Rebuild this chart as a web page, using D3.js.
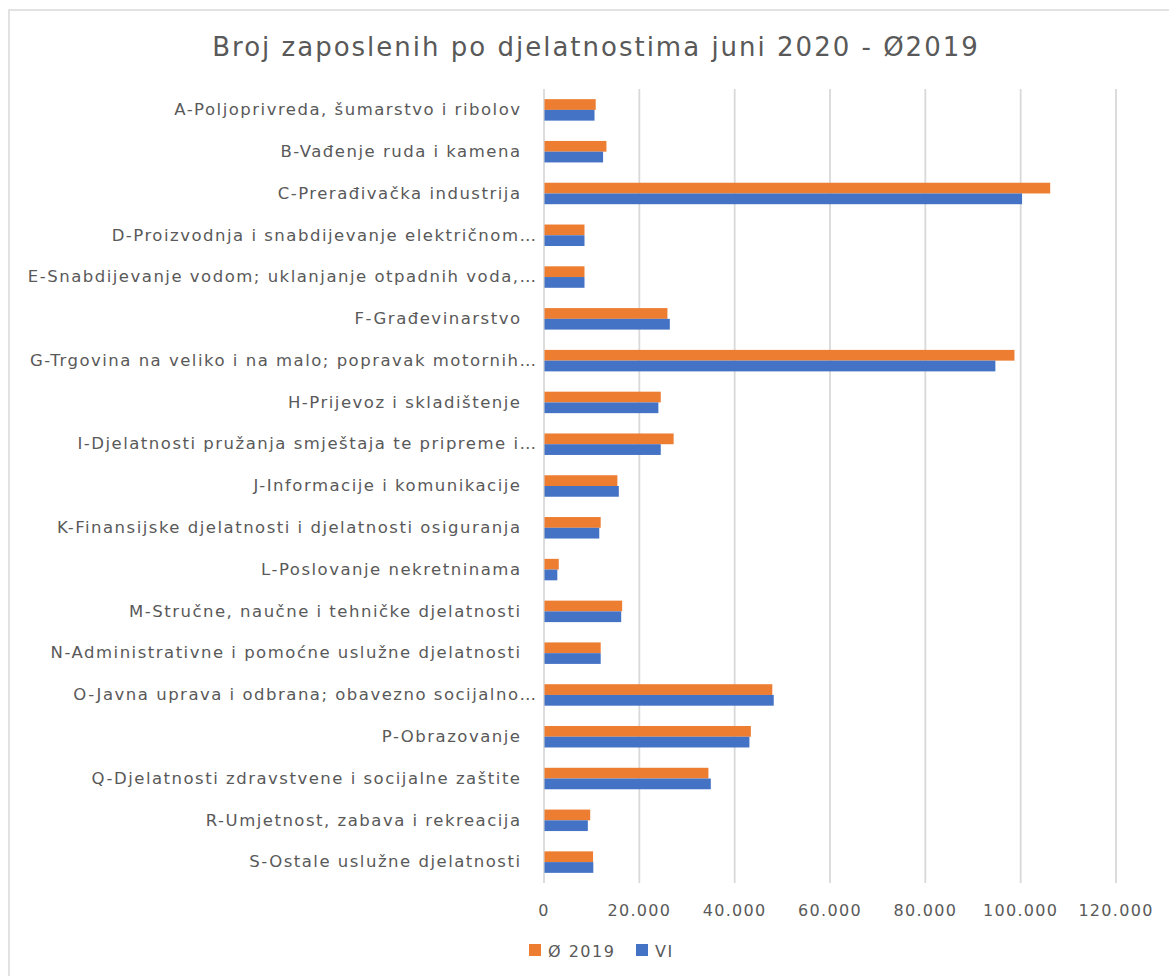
<!DOCTYPE html>
<html>
<head>
<meta charset="utf-8">
<script src="https://cdn.jsdelivr.net/npm/d3@7"></script>
<style>
  body { margin: 0; background: #fff; }
  text { font-family: "DejaVu Sans", sans-serif; fill: #595959; }
</style>
</head>
<body>
<div id="chart"></div>
<script>
// categories (top to bottom)
var categories = [
  "A-Poljoprivreda, šumarstvo i ribolov",
  "B-Vađenje ruda i kamena",
  "C-Prerađivačka industrija",
  "D-Proizvodnja i snabdijevanje električnom…",
  "E-Snabdijevanje vodom; uklanjanje otpadnih voda,…",
  "F-Građevinarstvo",
  "G-Trgovina na veliko i na malo; popravak motornih…",
  "H-Prijevoz i skladištenje",
  "I-Djelatnosti pružanja smještaja te pripreme i…",
  "J-Informacije i komunikacije",
  "K-Finansijske djelatnosti i djelatnosti osiguranja",
  "L-Poslovanje nekretninama",
  "M-Stručne, naučne i tehničke djelatnosti",
  "N-Administrativne i pomoćne uslužne djelatnosti",
  "O-Javna uprava i odbrana; obavezno socijalno…",
  "P-Obrazovanje",
  "Q-Djelatnosti zdravstvene i socijalne zaštite",
  "R-Umjetnost, zabava i rekreacija",
  "S-Ostale uslužne djelatnosti"
];
// series
var seriesNames = ["Ø 2019", "VI"];
var avg2019 = [10950, 13200, 106300, 8600, 8600, 26000, 98800, 24600, 27300, 15500,
               12000, 3200, 16500, 12000, 48000, 43500, 34600, 9800, 10400];
var vi = [10700, 12500, 100400, 8600, 8600, 26500, 94800, 24100, 24600, 15800,
          11700, 2900, 16300, 12000, 48300, 43200, 35100, 9300, 10450];
var xTicks = [0, 20000, 40000, 60000, 80000, 100000, 120000];

var colors = ["#ED7D31", "#4472C4"];

var svgWidth = 1169, svgHeight = 976;
var margin = {top: 89, right: 53.5, bottom: 93, left: 543.5};
var width = svgWidth - margin.left - margin.right;
var height = svgHeight - margin.top - margin.bottom;

var svg = d3.select("#chart").append("svg")
    .attr("width", svgWidth)
    .attr("height", svgHeight);

// outer chart border (cut off at right and bottom)
svg.append("rect")
    .attr("x", 9).attr("y", 10)
    .attr("width", 1200).attr("height", 1000)
    .attr("fill", "none")
    .attr("stroke", "#d9d9d9")
    .attr("stroke-width", 1.5);

svg.append("text")
    .attr("x", 596).attr("y", 56)
    .attr("text-anchor", "middle")
    .attr("font-size", "26px")
    .attr("letter-spacing", "2px")
    .text("Broj zaposlenih po djelatnostima juni 2020 - Ø2019");

var chartGroup = svg.append("g")
    .attr("transform", `translate(${margin.left}, ${margin.top})`);

var locale = d3.formatLocale({decimal: ",", thousands: ".", grouping: [3], currency: ["", ""]});
var fmt = locale.format(",");

var xScale = d3.scaleLinear().domain([0, 120000]).range([0, width]);
var yScale = d3.scaleBand().domain(categories).range([0, height])
    .paddingInner(0.486).paddingOuter(0.243);
var ySub = d3.scaleBand().domain(seriesNames).range([0, yScale.bandwidth()]);

// x axis with gridlines
var xAxis = d3.axisBottom(xScale).tickValues(xTicks).tickFormat(fmt)
    .tickSize(-height).tickPadding(22);
var xg = chartGroup.append("g")
    .attr("transform", `translate(0, ${height})`)
    .call(xAxis);
xg.select(".domain").remove();
xg.selectAll(".tick line").attr("stroke", "#d9d9d9").attr("stroke-width", 1.8);
xg.selectAll(".tick text")
    .attr("font-size", "16px")
    .attr("letter-spacing", "1.3px")
    .attr("fill", "#595959");

// y axis labels
var yAxis = d3.axisLeft(yScale).tickSize(0).tickPadding(22);
var yg = chartGroup.append("g").call(yAxis);
yg.select(".domain").remove();
yg.selectAll(".tick text")
    .attr("font-size", "16.5px")
    .attr("letter-spacing", "1.5px")
    .attr("fill", "#595959")
    .attr("x", d => d.endsWith("…") ? -6 : -22);

// bars
var rows = categories.map((c, i) => ({cat: c, values: [avg2019[i], vi[i]]}));
var groups = chartGroup.selectAll(".bar-group")
    .data(rows)
    .enter().append("g")
    .attr("transform", d => `translate(0, ${yScale(d.cat)})`);

groups.selectAll("rect")
    .data(d => d.values.map((v, j) => ({name: seriesNames[j], value: v, j: j})))
    .enter().append("rect")
    .attr("x", xScale(0) + 1)
    .attr("y", d => ySub(d.name))
    .attr("width", d => xScale(d.value) - xScale(0) - 1)
    .attr("height", ySub.bandwidth())
    .attr("fill", d => colors[d.j]);

// legend
var legend = svg.append("g").attr("transform", "translate(529, 944)");
var legendX = [0, 107];
seriesNames.forEach(function(name, j) {
  var lg = legend.append("g").attr("transform", `translate(${legendX[j]}, 0)`);
  lg.append("rect").attr("width", 12).attr("height", 12).attr("fill", colors[j]);
  lg.append("text").attr("x", 19).attr("y", 12.5)
    .attr("font-size", "16px")
    .attr("letter-spacing", "1.5px")
    .text(name);
});
</script>
</body>
</html>
